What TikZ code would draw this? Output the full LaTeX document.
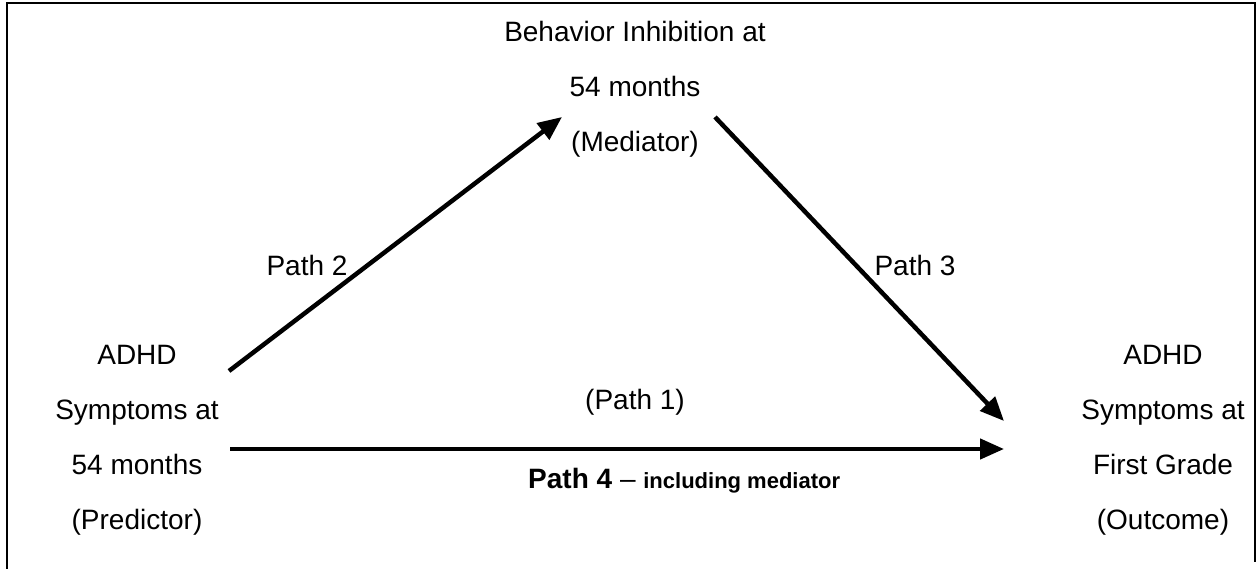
\documentclass[tikz,border=0pt]{standalone}
\usepackage{fontspec}
\setmainfont{Liberation Sans}
\usetikzlibrary{arrows.meta}
\begin{document}
\begin{tikzpicture}[x=1pt,y=-1pt,
  lbl/.style={font=\fontsize{28}{55}\selectfont, align=center, inner sep=0pt},
  conn/.style={line width=4.5pt, -{Triangle[length=24pt,width=20pt]}},
  frame/.style={line width=2.5pt}]
\useasboundingbox (0,0) rectangle (1258,569);
\draw[frame] (7,569) -- (7,3) -- (1255,3) -- (1255,562);
\node[lbl] (med) at (635,89) {Behavior Inhibition at\\54 months\\(Mediator)};
\node[lbl] (pred) at (137,440) {ADHD\\Symptoms at\\54 months\\(Predictor)};
\node[lbl] (out) at (1163,440) {ADHD\\Symptoms at\\First Grade\\(Outcome)};
\coordinate (p2s) at (229,371);
\coordinate (p2e) at (562,117);
\coordinate (p3s) at (715,117);
\coordinate (p3e) at (1004,421);
\coordinate (p1s) at (230,449);
\coordinate (p1e) at (1004,449);
\draw[conn] (p2s) -- (p2e);
\draw[conn] (p3s) -- (p3e);
\draw[conn] (p1s) -- (p1e);
\node[lbl] (l2) at (307,265) {Path 2};
\node[lbl] (l3) at (915,265) {Path 3};
\node[lbl] (l1) at (635,402) {(Path 1)};
\node[lbl, anchor=base west] (l4) at (528,488) {\textbf{Path 4} \mbox{–} {\fontsize{22}{24}\selectfont\textbf{including mediator}}};
\end{tikzpicture}
\end{document}
